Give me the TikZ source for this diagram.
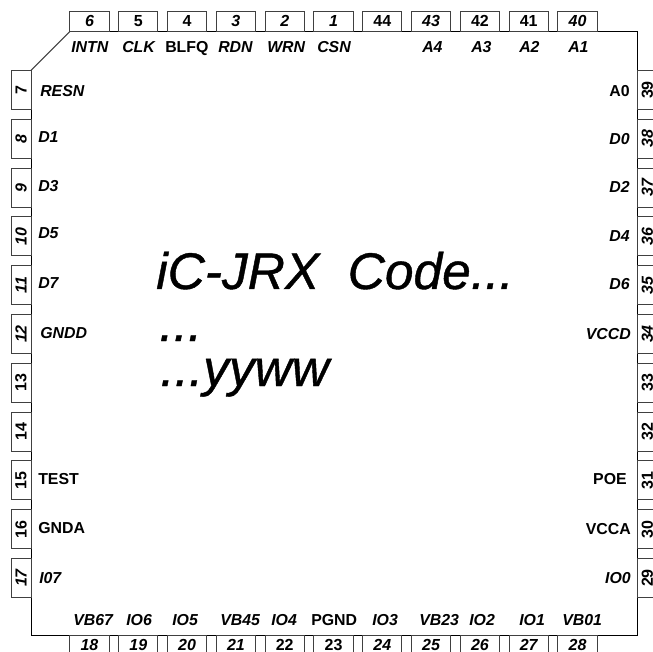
\documentclass[tikz,border=0pt]{standalone}
\usepackage{fontspec}
\setmainfont{Liberation Sans}
\newfontfamily\markfont[FakeBold=0.8]{Liberation Sans Italic}
\tikzset{
  x=0.75pt,y=-0.75pt,
  pinbox/.style={draw=pincol,line width=0.75pt,minimum width=29.3pt,minimum height=15pt,inner sep=0pt,font=\bfseries\fontsize{12}{14}\selectfont},
  up/.style={pinbox},
  it/.style={pinbox,font=\bfseries\itshape\fontsize{12}{14}\selectfont},
  lab/.style={inner sep=0pt,font=\bfseries\fontsize{11.9}{14}\selectfont},
  labi/.style={inner sep=0pt,font=\bfseries\itshape\fontsize{11.9}{14}\selectfont},
  big/.style={inner sep=0pt,anchor=base west,font=\markfont\fontsize{38.6}{46}\selectfont},
}
\definecolor{pincol}{HTML}{404040}
\begin{document}
\begin{tikzpicture}
\useasboundingbox (0,0) rectangle (653,652);
\fill[white] (0,0) rectangle (653,652);
% package outline
\coordinate (c1) at (70,31.3);
\coordinate (c2) at (637.3,31.3);
\coordinate (c3) at (637.3,635.3);
\coordinate (c4) at (31,635.3);
\coordinate (c5) at (31,70.3);
\draw[line width=0.75pt] (c1) -- (c2) -- (c3) -- (c4) -- (c5);
\draw[pincol,line width=0.75pt] (c5) -- (c1);
% top pins
\foreach \n/\s [count=\i from 0] in {6/it,5/up,4/up,3/it,2/it,1/it,44/up,43/it,42/up,41/up,40/it}
  \node[\s] (p\n) at ({89.5+48.8*\i},21.3) {\n};
% bottom pins
\foreach \n/\s [count=\i from 0] in {18/it,19/it,20/it,21/it,22/up,23/up,24/it,25/it,26/it,27/it,28/it}
  \node[\s] (p\n) at ({89.5+48.8*\i},645.3) {\n};
% left pins
\foreach \n/\s [count=\i from 0] in {7/up,8/it,9/it,10/it,11/it,12/it,13/up,14/up,15/up,16/up,17/it}
  \node[\s,rotate=90] (p\n) at (21,{90+48.8*\i}) {\n};
% right pins
\foreach \n/\s [count=\i from 0] in {39/up,38/it,37/it,36/it,35/it,34/it,33/up,32/up,31/up,30/up,29/up}
  \node[\s,rotate=90] (p\n) at (647.3,{90+48.8*\i}) {\n};
% top labels
\foreach \t/\x/\st in {INTN/71/labi,CLK/122/labi,BLFQ/165/lab,RDN/218/labi,WRN/267/labi,CSN/317/labi,A4/422/labi,A3/471/labi,A2/519/labi,A1/568/labi}
  \node[\st,anchor=base west] (t\t) at (\x,53) {\t};
% bottom labels
\foreach \t/\x/\st in {VB67/73/labi,IO6/126/labi,IO5/172/labi,VB45/220/labi,IO4/271/labi,PGND/311/lab,IO3/372/labi,VB23/419/labi,IO2/469/labi,IO1/519/labi,VB01/562/labi}
  \node[\st,anchor=base west] (b\t) at (\x,625) {\t};
% left labels
\foreach \t/\x/\y/\st in {RESN/40/97/labi,D1/38/143/labi,D3/38/192/labi,D5/38/239/labi,D7/38/289/labi,GNDD/40/338/labi,TEST/38/484/lab,GNDA/38/533/lab,I07/39/583/labi}
  \node[\st,anchor=base west] (l\t) at (\x,\y) {\t};
% right labels
\foreach \t/\x/\y/\st in {A0/630/97/lab,D0/630/145/labi,D2/630/193/labi,D4/630/242/labi,D6/630/290/labi,VCCD/631/339/labi,POE/627/484/lab,VCCA/631/534/lab,IO0/631/583/labi}
  \node[\st,anchor=base east] (r\t) at (\x,\y) {\t};
% marking
\node[big] (m1) at (156,289) {iC-JRX\ \ Code...};
\node[big] (m2) at (159,341) {...};
\node[big] (m3) at (160,386) {...yyww};
\end{tikzpicture}
\end{document}
